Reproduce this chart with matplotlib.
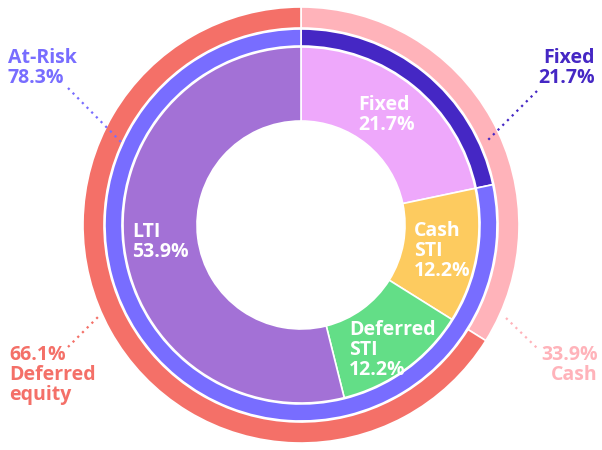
import matplotlib.pyplot as plt

# outer ring: cash vs deferred
outer_labels = ["Cash", "Deferred\nequity"]
outer_values = [33.9, 66.1]
outer_colors = ["#FFB3BA", "#F47068"]

# middle ring: fixed vs at-risk
mid_labels = ["Fixed", "At-Risk"]
mid_values = [21.7, 78.3]
mid_colors = ["#4527C4", "#786DFF"]

# inner ring: pay components
inner_labels = ["Fixed", "Cash\nSTI", "Deferred\nSTI", "LTI"]
inner_values = [21.7, 12.2, 12.2, 53.9]
inner_colors = ["#EEA8FB", "#FDCB5F", "#63DE87", "#A371D6"]

W, H = 602, 450
cx, cy = 301, 225
R = 218

fig = plt.figure(figsize=(W / 100, H / 100), dpi=100)
ax = fig.add_axes([0, 0, 1, 1])

wp = dict(edgecolor="white", linewidth=1.2)
ax.pie(outer_values, colors=outer_colors, radius=R, center=(cx, cy),
       startangle=90, counterclock=False, frame=True,
       wedgeprops=dict(width=R - 197, **wp))
ax.pie(mid_values, colors=mid_colors, radius=196, center=(cx, cy),
       startangle=90, counterclock=False, frame=True,
       wedgeprops=dict(width=196 - 179, **wp))
ax.pie(inner_values, colors=inner_colors, radius=178, center=(cx, cy),
       startangle=90, counterclock=False, frame=True,
       wedgeprops=dict(width=178 - 104, **wp))
ax.set_xlim(0, W)
ax.set_ylim(0, H)
ax.set_aspect("equal")
ax.axis("off")

font = dict(family="Open Sans", fontweight="bold", fontsize=14, linespacing=1.0)


def px(x, y):
    return x, H - y


# labels inside the inner ring
inner_pos = [(358, 95), (414, 221), (349, 320), (132, 222)]
for lab, val, (x, y) in zip(inner_labels, inner_values, inner_pos):
    ax.text(*px(x, y), f"{lab}\n{val}%", color="white", ha="left", va="top", **font)

# outside callouts
dots = (0, (1, 2))
ax.text(*px(8, 48), f"{mid_labels[1]}\n{mid_values[1]}%", color=mid_colors[1],
        ha="left", va="top", **font)
ax.plot([68, 121], [H - 88, H - 142], ls=dots, lw=1.6, color=mid_colors[1])

ax.text(*px(595, 48), f"{mid_labels[0]}\n{mid_values[0]}%", color=mid_colors[0],
        ha="right", va="top", **font)
ax.plot([537, 486], [H - 91, H - 142], ls=dots, lw=1.6, color=mid_colors[0])

ax.text(*px(9, 345), f"{outer_values[1]}%\n{outer_labels[1]}", color=outer_colors[1],
        ha="left", va="top", **font)
ax.plot([68, 99], [H - 347, H - 316], ls=dots, lw=1.6, color=outer_colors[1])

ax.text(*px(598, 345), f"{outer_values[0]}%\n{outer_labels[0]}", color=outer_colors[0],
        ha="right", va="top", **font)
ax.plot([506, 537], [H - 318, H - 348], ls=dots, lw=1.6, color=outer_colors[0])

fig.savefig("out.png", dpi=100)
